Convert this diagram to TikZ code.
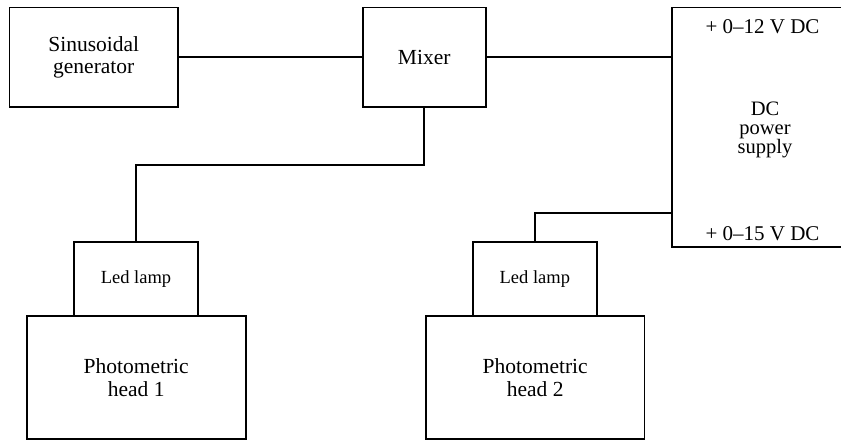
\documentclass[tikz,border=0pt]{standalone}
\usepackage{fontspec}
\setmainfont{Liberation Serif}
\begin{document}
\begin{tikzpicture}[x=1pt,y=-1pt,line width=1.6pt,
  blk/.style={draw,rectangle,inner sep=0pt,align=center,
    font=\fontsize{21.5}{22.5}\selectfont},
  small/.style={blk,font=\fontsize{18.5}{20}\selectfont},
  lbl/.style={inner sep=0pt,align=center,font=\fontsize{21}{19}\selectfont}]
\useasboundingbox (0,0) rectangle (841,440);
\clip (0,0) rectangle (841,440);

% blocks
\node[blk,minimum width=168.5pt,minimum height=99.5pt] (gen) at (93.75,57.25) {Sinusoidal\\generator};
\node[blk,minimum width=123pt,minimum height=99.5pt] (mixer) at (424.2,57.25) {Mixer};
\node[draw,rectangle,minimum width=190pt,minimum height=239.2pt] (dc) at (766.7,127.1) {};
\node[lbl] (v12) at (762.5,26.3) {+ 0–12 V DC};
\node[lbl,font=\fontsize{20.5}{19.2}\selectfont] (dcname) at (765,130) {DC\\power\\supply};
\node[lbl] (v15) at (762.5,234) {+ 0–15 V DC};

\node[small,minimum width=124pt,minimum height=74.3pt] (led1) at (136,278.85) {Led lamp};
\node[blk,minimum width=219pt,minimum height=123pt] (head1) at (136.2,377.5) {Photometric\\head 1};
\node[small,minimum width=123.7pt,minimum height=74.3pt] (led2) at (534.85,278.85) {Led lamp};
\node[blk,minimum width=218.3pt,minimum height=123pt] (head2) at (535.15,377.5) {Photometric\\head 2};

% wiring
\draw (gen.east) -- (mixer.west);
\draw (mixer.east) -- (mixer.east -| dc.west);
\draw (mixer.south) -- ++(0,57) -| (led1.north);
\coordinate (tap) at (dc.west |- 0,213);
\draw (tap) -| (led2.north);
\end{tikzpicture}
\end{document}
